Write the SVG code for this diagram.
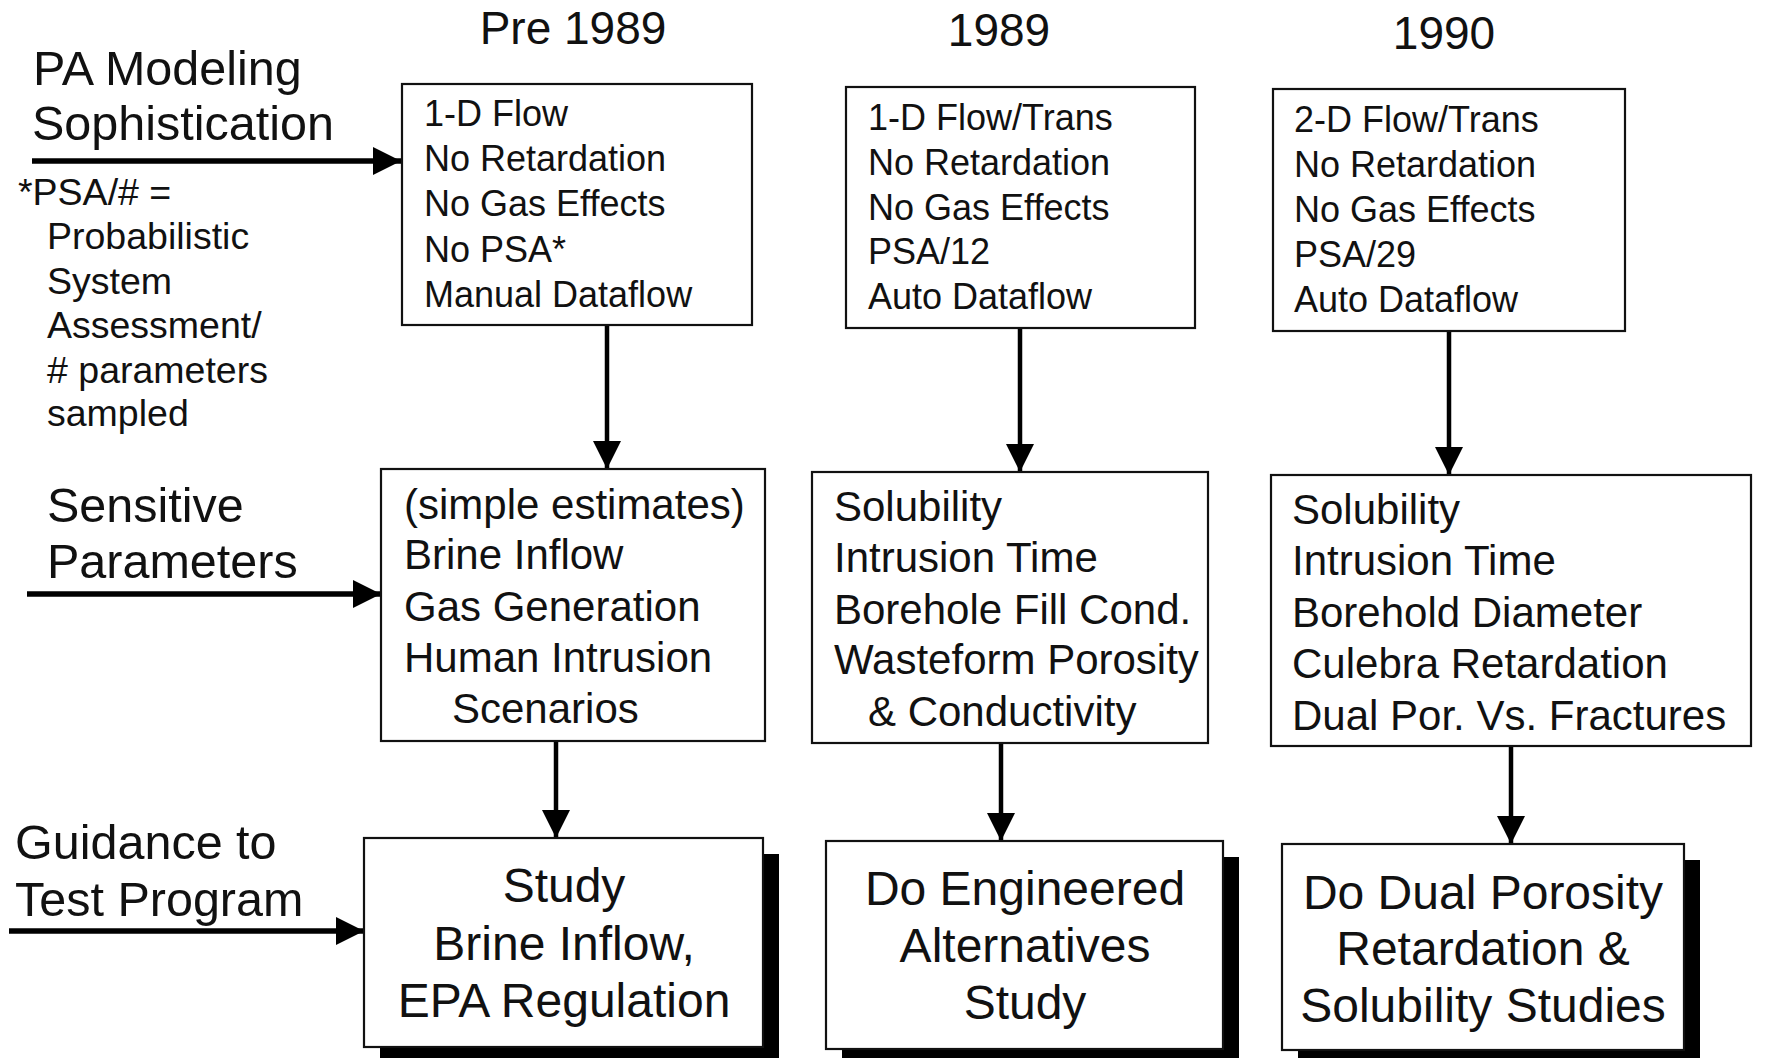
<svg xmlns="http://www.w3.org/2000/svg" width="1768" height="1058" viewBox="0 0 1768 1058">
<style>
text{font-family:"Liberation Sans",Arial,sans-serif;fill:#111}
.hdr{font-size:46px;text-anchor:middle}
.lbl{font-size:48.5px}
.note{font-size:37.5px}
.t1{font-size:36px}
.t2{font-size:42px}
.t3{font-size:48px;text-anchor:middle}
.box{fill:#fff;stroke:#111;stroke-width:2.2}
.shadow{fill:#000}
.conn{stroke:#000;stroke-width:4.5;fill:none}
.hconn{stroke:#000;stroke-width:5.5;fill:none}
</style>
<defs>
<marker id="ah" markerUnits="userSpaceOnUse" markerWidth="29" markerHeight="28" refX="28" refY="14" orient="auto">
<path d="M0,0 L28,14 L0,28 z" fill="#000"/>
</marker>
</defs>
<rect width="1768" height="1058" fill="#fff"/>

<g id="headers">
<text class="hdr" x="573" y="44">Pre 1989</text>
<text class="hdr" x="999" y="46">1989</text>
<text class="hdr" x="1444" y="49">1990</text>
</g>

<g id="label-pa">
<text class="lbl" x="33" y="85">PA Modeling</text>
<text class="lbl" x="32" y="140">Sophistication</text>
</g>
<g id="note-psa">
<text class="note" x="18" y="205">*PSA/# =</text>
<text class="note" x="47" y="249">Probabilistic</text>
<text class="note" x="47" y="294">System</text>
<text class="note" x="47" y="338">Assessment/</text>
<text class="note" x="47" y="383"># parameters</text>
<text class="note" x="47" y="426">sampled</text>
</g>
<g id="label-sensitive">
<text class="lbl" x="47" y="522">Sensitive</text>
<text class="lbl" x="47" y="578">Parameters</text>
</g>
<g id="label-guidance">
<text class="lbl" x="15" y="859">Guidance to</text>
<text class="lbl" x="15" y="916">Test Program</text>
</g>

<g id="connectors">
<line class="hconn" x1="32" y1="161" x2="401" y2="161" marker-end="url(#ah)"/>
<line class="hconn" x1="27" y1="594" x2="381" y2="594" marker-end="url(#ah)"/>
<line class="hconn" x1="9" y1="931" x2="364" y2="931" marker-end="url(#ah)"/>
<line class="conn" x1="607" y1="324" x2="607" y2="469" marker-end="url(#ah)"/>
<line class="conn" x1="1020" y1="327" x2="1020" y2="472" marker-end="url(#ah)"/>
<line class="conn" x1="1449" y1="329" x2="1449" y2="475" marker-end="url(#ah)"/>
<line class="conn" x1="556" y1="741" x2="556" y2="838" marker-end="url(#ah)"/>
<line class="conn" x1="1001" y1="743" x2="1001" y2="841" marker-end="url(#ah)"/>
<line class="conn" x1="1511" y1="746" x2="1511" y2="844" marker-end="url(#ah)"/>
</g>

<g id="top-pre1989">
<rect class="box" x="402" y="84" width="350" height="241"/>
<text class="t1" x="424" y="126">1-D Flow</text>
<text class="t1" x="424" y="171">No Retardation</text>
<text class="t1" x="424" y="216">No Gas Effects</text>
<text class="t1" x="424" y="262">No PSA*</text>
<text class="t1" x="424" y="307">Manual Dataflow</text>
</g>
<g id="top-1989">
<rect class="box" x="846" y="87" width="349" height="241"/>
<text class="t1" x="868" y="130">1-D Flow/Trans</text>
<text class="t1" x="868" y="175">No Retardation</text>
<text class="t1" x="868" y="220">No Gas Effects</text>
<text class="t1" x="868" y="264">PSA/12</text>
<text class="t1" x="868" y="309">Auto Dataflow</text>
</g>
<g id="top-1990">
<rect class="box" x="1273" y="89" width="352" height="242"/>
<text class="t1" x="1294" y="132">2-D Flow/Trans</text>
<text class="t1" x="1294" y="177">No Retardation</text>
<text class="t1" x="1294" y="222">No Gas Effects</text>
<text class="t1" x="1294" y="267">PSA/29</text>
<text class="t1" x="1294" y="312">Auto Dataflow</text>
</g>

<g id="mid-pre1989">
<rect class="box" x="381" y="469" width="384" height="272"/>
<text class="t2" x="404" y="519">(simple estimates)</text>
<text class="t2" x="404" y="569">Brine Inflow</text>
<text class="t2" x="404" y="621">Gas Generation</text>
<text class="t2" x="404" y="672">Human Intrusion</text>
<text class="t2" x="452" y="723">Scenarios</text>
</g>
<g id="mid-1989">
<rect class="box" x="812" y="472" width="396" height="271"/>
<text class="t2" x="834" y="521">Solubility</text>
<text class="t2" x="834" y="572">Intrusion Time</text>
<text class="t2" x="834" y="624">Borehole Fill Cond.</text>
<text class="t2" x="834" y="674">Wasteform Porosity</text>
<text class="t2" x="868" y="726">&amp; Conductivity</text>
</g>
<g id="mid-1990">
<rect class="box" x="1271" y="475" width="480" height="271"/>
<text class="t2" x="1292" y="524">Solubility</text>
<text class="t2" x="1292" y="575">Intrusion Time</text>
<text class="t2" x="1292" y="627">Borehold Diameter</text>
<text class="t2" x="1292" y="678">Culebra Retardation</text>
<text class="t2" x="1292" y="730">Dual Por. Vs. Fractures</text>
</g>

<g id="bot-pre1989">
<rect class="shadow" x="380" y="854" width="399" height="220"/>
<rect class="box" x="364" y="838" width="399" height="209"/>
<text class="t3" x="564" y="902">Study</text>
<text class="t3" x="564" y="960">Brine Inflow,</text>
<text class="t3" x="564" y="1017">EPA Regulation</text>
</g>
<g id="bot-1989">
<rect class="shadow" x="842" y="857" width="397" height="220"/>
<rect class="box" x="826" y="841" width="397" height="208"/>
<text class="t3" x="1025" y="905">Do Engineered</text>
<text class="t3" x="1025" y="962">Alternatives</text>
<text class="t3" x="1025" y="1019">Study</text>
</g>
<g id="bot-1990">
<rect class="shadow" x="1298" y="860" width="402" height="220"/>
<rect class="box" x="1282" y="844" width="402" height="206"/>
<text class="t3" x="1483" y="909">Do Dual Porosity</text>
<text class="t3" x="1483" y="965">Retardation &amp;</text>
<text class="t3" x="1483" y="1022">Solubility Studies</text>
</g>
</svg>
